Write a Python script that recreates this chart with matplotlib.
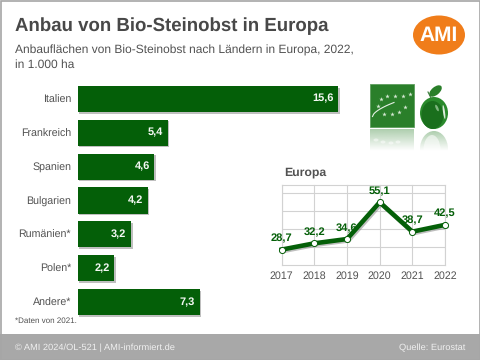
import numpy as np
import matplotlib
matplotlib.use("Agg")
import matplotlib.pyplot as plt
import matplotlib.patheffects as pe
from matplotlib.patches import Ellipse, Rectangle

plt.rcParams['font.family'] = ['Liberation Sans', 'DejaVu Sans']
plt.rcParams['text.hinting'] = 'no_hinting'
plt.rcParams['text.hinting_factor'] = 8

countries = ["Italien", "Frankreich", "Spanien", "Bulgarien", "Rumänien*", "Polen*", "Andere*"]
areas = [15.6, 5.4, 4.6, 4.2, 3.2, 2.2, 7.3]
years = ["2017", "2018", "2019", "2020", "2021", "2022"]
europe = [28.7, 32.2, 34.6, 55.1, 38.7, 42.5]
GREEN = "#045f08"
TXT = "#525252"
W, H = 480, 360


def ax_px(x0, y0, x1, y1, **kw):
    return fig.add_axes([x0 / W, 1 - y1 / H, (x1 - x0) / W, (y1 - y0) / H], **kw)


fig = plt.figure(figsize=(4.8, 3.6), dpi=100, facecolor="white")

# decoration layer in pixel coordinates
bg = fig.add_axes([0, 0, 1, 1])
bg.axis("off")
bg.add_patch(Rectangle((0, 334), W, 26, fc="#a8a8a8", ec="none"))
bg.add_patch(Rectangle((0.5, 0.5), W - 1, H - 1, fc="none", ec="#a6a6a6", lw=1.2))
bg.text(15, 26.5, "Anbau von Bio-Steinobst in Europa", fontsize=13.45, fontweight="bold",
        color="#484848", va="center", ha="left")
bg.text(15, 50, "Anbauflächen von Bio-Steinobst nach Ländern in Europa, 2022,", fontsize=8.65,
        color=TXT, va="center", ha="left")
bg.text(15, 64.5, "in 1.000 ha", fontsize=8.65, color=TXT, va="center", ha="left")
bg.text(15, 321, "*Daten von 2021.", fontsize=5.75, color=TXT, va="center", ha="left")
bg.text(15, 347.5, "© AMI 2024/OL-521 | AMI-informiert.de", fontsize=6.7, color="#f0f0f0", va="center", ha="left")
bg.text(465, 347.5, "Quelle: Eurostat", fontsize=6.7, color="#f0f0f0", va="center", ha="right")
bg.text(284, 172.5, "Europa", fontsize=8.8, fontweight="bold", color=TXT, va="center", ha="left")

# AMI logo
bg.add_patch(Ellipse((439, 35), 52, 39, fc="#f07d1a", ec="none"))
bg.text(439, 36, "AMI", fontsize=15, fontweight="bold", color="white", va="center", ha="center")

# organic logo and plum
LOGO = "#2a7f2a"
bg.add_patch(Rectangle((370, 83.5), 44, 43, fc=LOGO, ec="#5e9e5e", lw=0.6))
star_x = [381, 387, 395, 403, 410, 405, 399, 392, 384, 378]
star_y = [99, 95.5, 95.5, 96, 94, 107, 112, 114, 114, 106]
bg.plot(star_x, star_y, ls="", marker="*", ms=3.4, color="#d5e8d3", mew=0)
t = np.linspace(0, 1, 20)
bg.plot(372.5 + 21.5 * t, 116.5 - 14 * t ** 0.6, color="#e6f0e6", lw=0.8)
bg.add_patch(Ellipse((434, 113), 28, 32, fc="#2a8a2c", ec="none"))
bg.add_patch(Ellipse((432.5, 115), 22, 28, fc="#1a6f1d", ec="none"))
bg.add_patch(Ellipse((444, 112), 2, 14, angle=-8, fc="#dcebdc", ec="none"))
bg.add_patch(Ellipse((437, 108), 2.5, 7, angle=-25, fc="#7fb67f", ec="none"))
bg.add_patch(Ellipse((435.5, 91), 8, 15, angle=50, fc=LOGO, ec="none"))
bg.plot([428, 431], [92, 98], color="#3a7a3a", lw=0.8)

# faded reflections
grad = np.zeros((40, 1, 4))
grad[..., :3] = matplotlib.colors.to_rgb(LOGO)
grad[..., 3] = np.linspace(0.38, 0, 40)[:, None]
bg.imshow(grad, extent=(370, 414, 151, 129), aspect="auto", zorder=1)
im = bg.imshow(grad, extent=(420, 448, 151, 131), aspect="auto", zorder=1)
im.set_clip_path(Ellipse((434, 149), 28, 36, transform=bg.transData))
bg.add_patch(Ellipse((432, 150), 17, 30, fc="white", ec="none", alpha=0.55, zorder=2))
for sx, sy in zip([376, 383, 391, 398], [140, 142, 143, 142]):
    bg.add_patch(Ellipse((sx, sy), 5, 3, fc="white", ec="none", alpha=0.5, zorder=2))
bg.set_xlim(0, W)
bg.set_ylim(H, 0)

# bars: x 77.5 px = 0, 16.72 px per unit
ax = ax_px(77.5, 82, 77.5 + 16.72 * 17, 319)
ax.patch.set_alpha(0)
ypos = np.arange(len(countries))
bars = ax.barh(ypos, areas, height=26 / 33.83, color=GREEN, edgecolor="none")
for b in bars:
    b.set_path_effects([pe.SimplePatchShadow(offset=(1.2, -1.2), shadow_rgbFace="#808080", alpha=0.5),
                        pe.Normal()])
ax.set_xlim(0, 17)
ax.set_ylim(len(countries) - 1 + 0.5, -0.5)
ax.set_yticks(ypos, countries)
ax.set_xticks([])
ax.tick_params(axis="y", length=0, pad=4.6, labelsize=7.7, labelcolor=TXT)
for s in ax.spines.values():
    s.set_visible(False)
for y, v in zip(ypos, areas):
    ax.annotate(f"{v:.1f}".replace(".", ","), (v, y), xytext=(-4.5, 0), textcoords="offset pixels",
                ha="right", va="center", color="#f4f8f4", fontsize=7.9, fontweight="bold")

# line chart
lx = ax_px(281.7, 184.5, 445, 265.2)
lx.patch.set_alpha(0)
xs = np.arange(len(years))
lx.plot(xs, europe, color=GREEN, lw=3.3, solid_joinstyle="miter", clip_on=False, zorder=3,
        path_effects=[pe.SimpleLineShadow(offset=(1, -1), shadow_color="#808080", alpha=0.5), pe.Normal()])
lx.plot(xs, europe, ls="", marker="o", ms=4.4, mfc="white", mec=GREEN, mew=0.7, clip_on=False, zorder=4)
lx.set_xlim(0, 5)
lx.set_ylim(20, 65)
lx.set_yticks([30, 40, 50, 60])
lx.set_xticks(xs, years)
lx.set_yticklabels([])
lx.grid(color="#d2d2d2", lw=0.8)
lx.set_axisbelow(True)
lx.tick_params(axis="both", length=0)
lx.tick_params(axis="x", pad=4, labelsize=7.7, labelcolor=TXT)
for s in lx.spines.values():
    s.set_color("#d2d2d2")
    s.set_linewidth(0.8)
for x, v in zip(xs, europe):
    lx.annotate(f"{v:.1f}".replace(".", ","), (x, v), xytext=(0, 11), textcoords="offset pixels",
                ha="center", va="center", color=GREEN, fontsize=8, fontweight="bold", zorder=5,
                annotation_clip=False)

fig.savefig("out.png", dpi=100)
